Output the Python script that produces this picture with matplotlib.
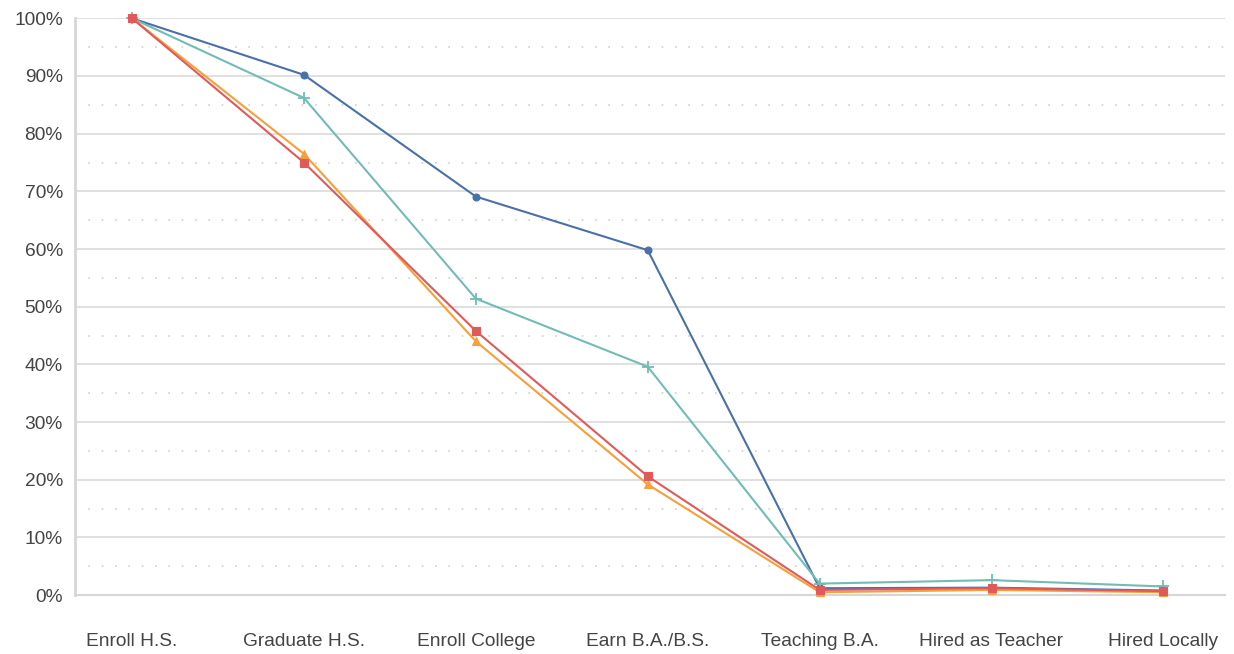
import matplotlib.pyplot as plt
from matplotlib.ticker import FuncFormatter, MultipleLocator

plt.rcParams["font.family"] = ["Liberation Sans", "DejaVu Sans"]

stages = ["Enroll H.S.", "Graduate H.S.", "Enroll College", "Earn B.A./B.S.",
          "Teaching B.A.", "Hired as Teacher", "Hired Locally"]

blue = [100, 90.2, 69.1, 59.8, 1.2, 1.3, 0.8]
teal = [100, 86.2, 51.4, 39.6, 2.0, 2.6, 1.5]
orange = [100, 76.5, 44.0, 19.2, 0.5, 0.9, 0.5]
red = [100, 75.0, 45.8, 20.6, 0.9, 1.2, 0.7]

series = [
    (blue, "#4a70a8", "o", 5),
    (teal, "#72bcb5", "+", 9),
    (orange, "#f5a03a", "^", 6),
    (red, "#e05a5a", "s", 5.5),
]

fig = plt.figure(figsize=(12.34, 6.54), dpi=100)
ax = fig.add_axes([0.061, 0.09, 0.932, 0.882])

x = list(range(len(stages)))
for vals, color, marker, ms in series:
    ax.plot(x, vals, color=color, linewidth=1.5, marker=marker, markersize=ms,
            markeredgewidth=1.3 if marker == "+" else 0.8, clip_on=False, zorder=3)

ax.set_xlim(-0.33, 6.36)
ax.set_ylim(0, 100)
ax.yaxis.set_major_locator(MultipleLocator(10))
ax.yaxis.set_minor_locator(MultipleLocator(5))
ax.yaxis.set_major_formatter(FuncFormatter(lambda v, p: f"{v:.0f}%"))
ax.grid(axis="y", which="major", color="#dadada", linewidth=1.2)
ax.grid(axis="y", which="minor", color="#cfcfcf", linewidth=1.2, linestyle=(0, (1, 7)))
ax.set_axisbelow(True)

ax.set_xticks(x)
ax.set_xticklabels(stages)
ax.tick_params(axis="both", which="both", length=0, labelsize=13.8, colors="#444444")
ax.tick_params(axis="x", pad=27)
ax.tick_params(axis="y", pad=9)

for side in ["top", "right"]:
    ax.spines[side].set_visible(False)
ax.spines["left"].set_color("#d6d6d6")
ax.spines["left"].set_linewidth(2)
ax.spines["bottom"].set_color("#d6d6d6")
ax.spines["bottom"].set_linewidth(1.5)

fig.savefig("out.png", dpi=100)
